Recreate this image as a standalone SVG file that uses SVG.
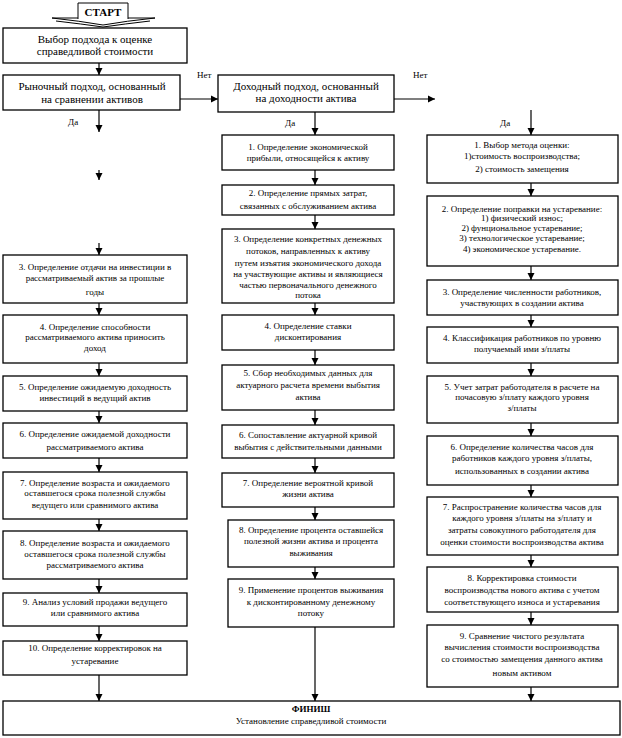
<svg xmlns="http://www.w3.org/2000/svg" width="622" height="738" viewBox="0 0 622 738">
<defs>
<style>
.b{fill:#fff;stroke:#000;stroke-width:1.3}
.t{font-family:"Liberation Serif","Times New Roman",serif;font-size:9px;text-anchor:middle;fill:#000}
.tl{font-family:"Liberation Serif","Times New Roman",serif;font-size:11px;text-anchor:middle;fill:#000}
.lb{font-family:"Liberation Serif","Times New Roman",serif;font-size:9px;fill:#000}
.c{stroke:#000;stroke-width:1.2;fill:none;marker-end:url(#ah)}
</style>
<marker id="ah" markerWidth="8" markerHeight="8" refX="7" refY="4" orient="auto" markerUnits="userSpaceOnUse"><path d="M0,0.5 L7,4 L0,7.5 z" fill="#000"/></marker>
</defs>
<rect width="622" height="738" fill="#fff"/>

<g id="start">
<path d="M78,3 H128 V19 M78,3 V19 M52,18 H78 M128,18 H155 M52,18 Q80,21 103,25 Q126,21 155,18 M56,21 Q82,24 103,27 Q124,24 150,21" fill="none" stroke="#000" stroke-width="1"/>
<text x="103" y="16" class="tl" font-weight="bold">СТАРТ</text>
</g>

<g id="choice">
<rect x="3" y="28" width="184" height="35" class="b"/>
<text x="95" y="43" class="tl">Выбор подхода к оценке</text>
<text x="95" y="55" class="tl">справедливой стоимости</text>
</g>

<g id="market">
<rect x="3" y="75" width="177" height="35" class="b"/>
<text x="92" y="90" class="tl">Рыночный подход, основанный</text>
<text x="92" y="103" class="tl">на сравнении активов</text>
</g>

<g id="income">
<rect x="218" y="75" width="176" height="37" class="b"/>
<text x="306" y="90" class="tl">Доходный подход, основанный</text>
<text x="306" y="102" class="tl">на доходности актива</text>
</g>

<g id="labels">
<text x="197" y="78" class="lb">Нет</text>
<text x="413" y="78" class="lb">Нет</text>
<text x="68" y="125" class="lb">Да</text>
<text x="285" y="126" class="lb">Да</text>
<text x="500" y="126" class="lb">Да</text>
</g>

<g id="L3"><rect x="3" y="255" width="184" height="48" class="b"/>
<text x="95" y="270" class="t">3. Определение отдачи на инвестиции в</text>
<text x="95" y="281" class="t">рассматриваемый актив за прошлые</text>
<text x="95" y="295" class="t">годы</text></g>
<g id="L4"><rect x="3" y="315" width="184" height="48" class="b"/>
<text x="95" y="330" class="t">4. Определение способности</text>
<text x="95" y="340" class="t">рассматриваемого актива приносить</text>
<text x="95" y="351" class="t">доход</text></g>
<g id="L5"><rect x="3" y="376" width="184" height="35" class="b"/>
<text x="95" y="390" class="t">5. Определение ожидаемую доходность</text>
<text x="95" y="401" class="t">инвестиций в ведущий актив</text></g>
<g id="L6"><rect x="3" y="423" width="184" height="35" class="b"/>
<text x="95" y="437" class="t">6. Определение ожидаемой доходности</text>
<text x="95" y="450" class="t">рассматриваемого актива</text></g>
<g id="L7"><rect x="3" y="472" width="184" height="47" class="b"/>
<text x="95" y="486" class="t">7. Определение возраста и ожидаемого</text>
<text x="95" y="496" class="t">оставшегося срока полезной службы</text>
<text x="95" y="508" class="t">ведущего или сравнимого актива</text></g>
<g id="L8"><rect x="3" y="531" width="184" height="48" class="b"/>
<text x="95" y="546" class="t">8. Определение возраста и ожидаемого</text>
<text x="95" y="557" class="t">оставшегося срока полезной службы</text>
<text x="95" y="568" class="t">рассматриваемого актива</text></g>
<g id="L9"><rect x="3" y="593" width="184" height="33" class="b"/>
<text x="95" y="605" class="t">9. Анализ условий продажи ведущего</text>
<text x="95" y="616" class="t">или сравнимого актива</text></g>
<g id="L10"><rect x="3" y="641" width="184" height="34" class="b"/>
<text x="95" y="651" class="t">10. Определение корректировок на</text>
<text x="95" y="664" class="t">устаревание</text></g>

<g id="M1"><rect x="222" y="135" width="172" height="35" class="b"/>
<text x="308" y="150" class="t">1. Определение экономической</text>
<text x="308" y="161" class="t">прибыли, относящейся к активу</text></g>
<g id="M2"><rect x="222" y="185" width="172" height="30" class="b"/>
<text x="308" y="196" class="t">2. Определение прямых затрат,</text>
<text x="308" y="209" class="t">связанных с обслуживанием актива</text></g>
<g id="M3"><rect x="222" y="229" width="172" height="74" class="b"/>
<text x="308" y="242" class="t">3. Определение конкретных денежных</text>
<text x="308" y="254" class="t">потоков, направленных к активу</text>
<text x="308" y="266" class="t">путем изъятия экономического дохода</text>
<text x="308" y="277" class="t">на участвующие активы и являющиеся</text>
<text x="308" y="288" class="t">частью первоначального денежного</text>
<text x="308" y="298" class="t">потока</text></g>
<g id="M4"><rect x="222" y="315" width="172" height="35" class="b"/>
<text x="308" y="329" class="t">4. Определение ставки</text>
<text x="308" y="340" class="t">дисконтирования</text></g>
<g id="M5"><rect x="222" y="365" width="172" height="45" class="b"/>
<text x="308" y="376" class="t">5. Сбор необходимых данных для</text>
<text x="308" y="388" class="t">актуарного расчета времени выбытия</text>
<text x="308" y="400" class="t">актива</text></g>
<g id="M6"><rect x="222" y="425" width="172" height="33" class="b"/>
<text x="308" y="438" class="t">6.  Сопоставление актуарной кривой</text>
<text x="308" y="450" class="t">выбытия с действительными данными</text></g>
<g id="M7"><rect x="222" y="473" width="172" height="34" class="b"/>
<text x="308" y="486" class="t">7. Определение вероятной кривой</text>
<text x="308" y="497" class="t">жизни актива</text></g>
<g id="M8"><rect x="228" y="520" width="166" height="47" class="b"/>
<text x="311" y="533" class="t">8. Определение процента оставшейся</text>
<text x="311" y="544" class="t">полезной жизни актива и процента</text>
<text x="311" y="556" class="t">выживания</text></g>
<g id="M9"><rect x="228" y="579" width="166" height="48" class="b"/>
<text x="311" y="593" class="t">9. Применение процентов выживания</text>
<text x="311" y="605" class="t">к дисконтированному денежному</text>
<text x="311" y="616" class="t">потоку</text></g>

<g id="R1"><rect x="427" y="135" width="191" height="48" class="b"/>
<text x="522" y="148" class="t">1. Выбор метода оценки:</text>
<text x="522" y="159" class="t">1)стоимость воспроизводства;</text>
<text x="522" y="172" class="t">2) стоимость замещения</text></g>
<g id="R2"><rect x="427" y="196" width="191" height="70" class="b"/>
<text x="522" y="212" class="t">2. Определение поправки на устаревание:</text>
<text x="522" y="221" class="t">1) физический износ;</text>
<text x="522" y="231" class="t">2) фунциональное устаревание;</text>
<text x="522" y="241" class="t">3) технологическое устаревание;</text>
<text x="522" y="252" class="t">4) экономическое устаревание.</text></g>
<g id="R3"><rect x="427" y="280" width="191" height="35" class="b"/>
<text x="522" y="295" class="t">3. Определение численности работников,</text>
<text x="522" y="306" class="t">участвующих в  создании актива</text></g>
<g id="R4"><rect x="427" y="327" width="191" height="36" class="b"/>
<text x="522" y="341" class="t">4. Классификация работников по уровню</text>
<text x="522" y="352" class="t">получаемый ими з/платы</text></g>
<g id="R5"><rect x="427" y="376" width="191" height="47" class="b"/>
<text x="522" y="390" class="t">5. Учет затрат работодателя в расчете на</text>
<text x="522" y="400" class="t">почасовую з/плату каждого уровня</text>
<text x="522" y="411" class="t">з/платы</text></g>
<g id="R6"><rect x="427" y="436" width="191" height="49" class="b"/>
<text x="522" y="450" class="t">6. Определение количества часов для</text>
<text x="522" y="461" class="t">работников каждого уровня з/платы,</text>
<text x="522" y="474" class="t">использованных в  создании актива</text></g>
<g id="R7"><rect x="427" y="497" width="191" height="58" class="b"/>
<text x="522" y="510" class="t">7. Распространение количества часов для</text>
<text x="522" y="521" class="t">каждого уровня з/платы на з/плату и</text>
<text x="522" y="533" class="t">затраты совокупного работодателя для</text>
<text x="522" y="545" class="t">оценки стоимости воспроизводства актива</text></g>
<g id="R8"><rect x="427" y="567" width="191" height="45" class="b"/>
<text x="522" y="581" class="t">8. Корректировка стоимости</text>
<text x="522" y="593" class="t">воспроизводства нового актива с учетом</text>
<text x="522" y="605" class="t">соответствующего износа и устаревания</text></g>
<g id="R9"><rect x="427" y="625" width="191" height="62" class="b"/>
<text x="522" y="639" class="t">9. Сравнение чистого результата</text>
<text x="522" y="650" class="t">вычисления стоимости воспроизводства</text>
<text x="522" y="662" class="t">со стоимостью замещения данного актива</text>
<text x="522" y="676" class="t">новым активом</text></g>

<g id="finish"><rect x="3" y="701" width="617" height="34" class="b"/>
<text x="311" y="712" class="t" font-weight="bold">ФИНИШ</text>
<text x="311" y="724" class="t">Установление справедливой стоимости</text></g>

<g id="connectors">
<line x1="99" y1="63" x2="99" y2="75" class="c"/>
<line x1="180" y1="99" x2="218" y2="99" class="c"/>
<line x1="394" y1="99" x2="435" y2="99" class="c"/>
<line x1="99" y1="110" x2="99" y2="132" class="c"/>
<line x1="99" y1="170" x2="99" y2="180" class="c"/>
<line x1="99" y1="243" x2="99" y2="255" class="c"/>
<line x1="99" y1="303" x2="99" y2="315" class="c"/>
<line x1="99" y1="363" x2="99" y2="376" class="c"/>
<line x1="99" y1="411" x2="99" y2="423" class="c"/>
<line x1="99" y1="458" x2="99" y2="472" class="c"/>
<line x1="99" y1="519" x2="99" y2="531" class="c"/>
<line x1="99" y1="579" x2="99" y2="593" class="c"/>
<line x1="99" y1="626" x2="99" y2="641" class="c"/>
<line x1="99" y1="675" x2="99" y2="701" class="c"/>
<line x1="315" y1="112" x2="315" y2="135" class="c"/>
<line x1="315" y1="170" x2="315" y2="185" class="c"/>
<line x1="315" y1="215" x2="315" y2="229" class="c"/>
<line x1="315" y1="303" x2="315" y2="315" class="c"/>
<line x1="315" y1="350" x2="315" y2="365" class="c"/>
<line x1="315" y1="410" x2="315" y2="425" class="c"/>
<line x1="315" y1="458" x2="315" y2="473" class="c"/>
<line x1="315" y1="507" x2="315" y2="520" class="c"/>
<line x1="315" y1="567" x2="315" y2="579" class="c"/>
<line x1="315" y1="627" x2="315" y2="701" class="c"/>
<line x1="531" y1="110" x2="531" y2="135" class="c"/>
<line x1="531" y1="183" x2="531" y2="196" class="c"/>
<line x1="531" y1="266" x2="531" y2="280" class="c"/>
<line x1="531" y1="315" x2="531" y2="327" class="c"/>
<line x1="531" y1="363" x2="531" y2="376" class="c"/>
<line x1="531" y1="423" x2="531" y2="436" class="c"/>
<line x1="531" y1="485" x2="531" y2="497" class="c"/>
<line x1="531" y1="555" x2="531" y2="567" class="c"/>
<line x1="531" y1="612" x2="531" y2="625" class="c"/>
<line x1="531" y1="687" x2="531" y2="701" class="c"/>
</g>
</svg>
